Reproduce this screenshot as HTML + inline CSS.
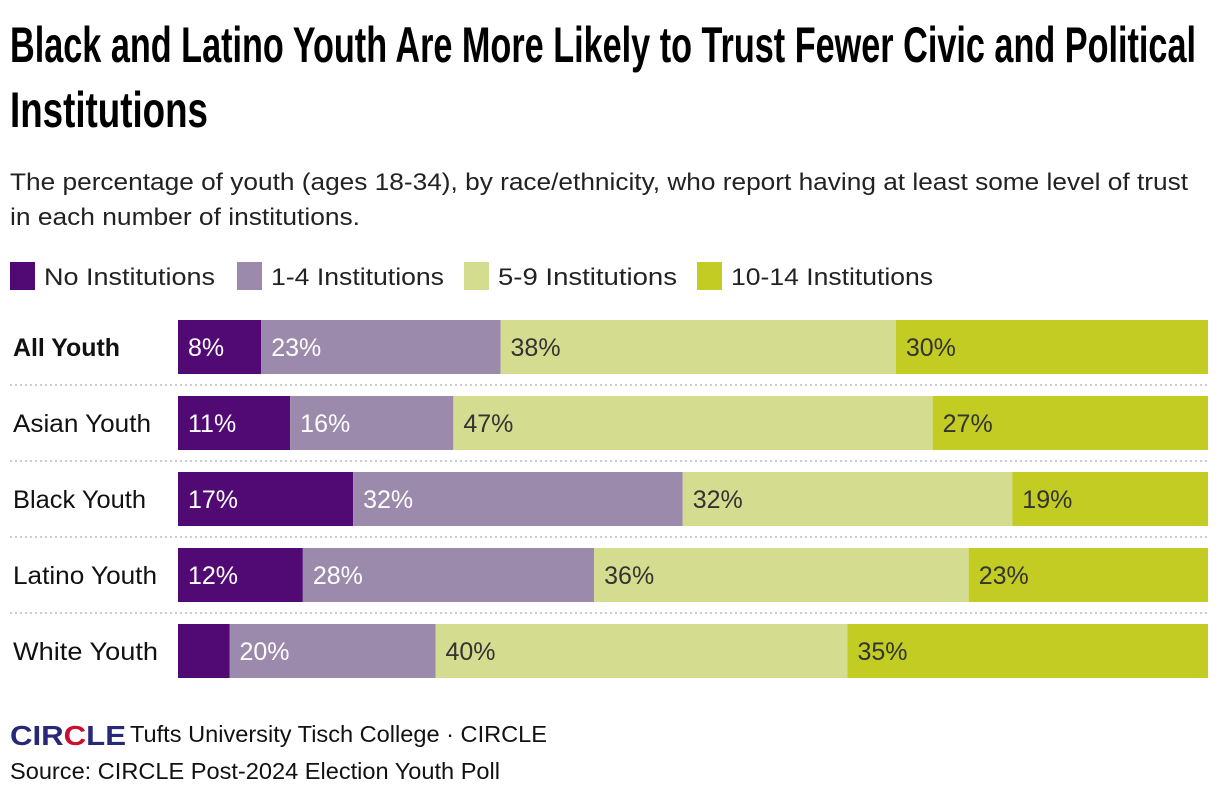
<!DOCTYPE html>
<html><head><meta charset="utf-8"><style>
body{margin:0;background:#fff}
svg{display:block;font-family:"Liberation Sans",sans-serif}
</style></head><body>
<svg id="chart" width="1220" height="802" viewBox="0 0 1220 802">
<text x="10" y="62" font-family="Liberation Sans Narrow, Liberation Sans, sans-serif" font-weight="bold" font-size="50" textLength="1186" lengthAdjust="spacingAndGlyphs" fill="#000">Black and Latino Youth Are More Likely to Trust Fewer Civic and Political</text>
<text x="10" y="127" font-family="Liberation Sans Narrow, Liberation Sans, sans-serif" font-weight="bold" font-size="50" textLength="198" lengthAdjust="spacingAndGlyphs" fill="#000">Institutions</text>
<text x="10" y="190" font-size="24" textLength="1178" lengthAdjust="spacingAndGlyphs" fill="#222">The percentage of youth (ages 18-34), by race/ethnicity, who report having at least some level of trust</text>
<text x="10" y="225" font-size="24" textLength="350" lengthAdjust="spacingAndGlyphs" fill="#222">in each number of institutions.</text>
<g id="legend"></g>
<g id="rows"></g>
<g>
<text x="10" y="745" font-size="28" font-weight="bold" fill="#27287a" textLength="116" lengthAdjust="spacingAndGlyphs">CIR<tspan fill="#c8102e">C</tspan>LE</text>
</g>
<text x="130" y="742" font-size="23" textLength="417" lengthAdjust="spacingAndGlyphs" fill="#111">Tufts University Tisch College · CIRCLE</text>
<text x="10" y="779" font-size="23" textLength="490" lengthAdjust="spacingAndGlyphs" fill="#111">Source: CIRCLE Post-2024 Election Youth Poll</text>
</svg>
<script>
const categories=["All Youth","Asian Youth","Black Youth","Latino Youth","White Youth"];
const seriesNames=["No Institutions","1-4 Institutions","5-9 Institutions","10-14 Institutions"];
const noInst=[8,11,17,12,5];
const oneFour=[23,16,32,28,20];
const fiveNine=[38,47,32,36,40];
const tenFourteen=[30,27,19,23,35];
const labelShown=[[true,true,true,true,true],[true,true,true,true,true],[true,true,true,true,true],[true,true,true,true,true]];
labelShown[0][4]=false;
const series=[noInst,oneFour,fiveNine,tenFourteen];
const colors=["#510a73","#9b8aac","#d4dd8f","#c3cc22"];
const textColors=["#fff","#fff","#333","#333"];
const legendLens=[171,173,179,202];
const rowLabelLens=[107,138,133,144,145];
const NS="http://www.w3.org/2000/svg";
function mk(tag,attrs,parent){const e=document.createElementNS(NS,tag);for(const k in attrs)e.setAttribute(k,attrs[k]);parent.appendChild(e);return e;}
const legend=document.getElementById('legend');
const legX=[10,237,464,697];
seriesNames.forEach((n,i)=>{
  const r=mk('rect',{x:legX[i],y:262,width:25,height:28,fill:colors[i]},legend);
  
  
  const t=mk('text',{x:legX[i]+34,y:285,'font-size':24,fill:'#222',textLength:legendLens[i],lengthAdjust:'spacingAndGlyphs'},legend);
  
  
  t.textContent=n;
});
const rows=document.getElementById('rows');
const x0=178,x1=1208,rowTop=320,pitch=76,barH=54;
categories.forEach((c,ri)=>{
  const y=rowTop+ri*pitch;
  const lab=mk('text',{x:13,y:y+36,'font-size':25,fill:'#111','font-weight':ri===0?'bold':'normal',textLength:rowLabelLens[ri],lengthAdjust:'spacingAndGlyphs'},rows);
  
  
  lab.textContent=c;
  let total=0;series.forEach(s=>total+=s[ri]);
  const sc=v=>v/total*(x1-x0);
  let x=x0;
  series.forEach((s,si)=>{
    const w=sc(s[ri]);
    const r=mk('rect',{x:x,y:y,width:w,height:barH,fill:colors[si]},rows);
    
    
    if(labelShown[si][ri]){
      const t=mk('text',{x:x+10,y:y+36,'font-size':25,fill:textColors[si]},rows);
      
      
      t.textContent=s[ri]+'%';
    }
    x+=w;
  });
  if(ri<categories.length-1){
    const l=mk('line',{x1:10,x2:1208,y1:y+65,y2:y+65,stroke:'#ccc','stroke-width':2,'stroke-dasharray':'2,3'},rows);
    
    
  }
});
</script>
</body></html>
